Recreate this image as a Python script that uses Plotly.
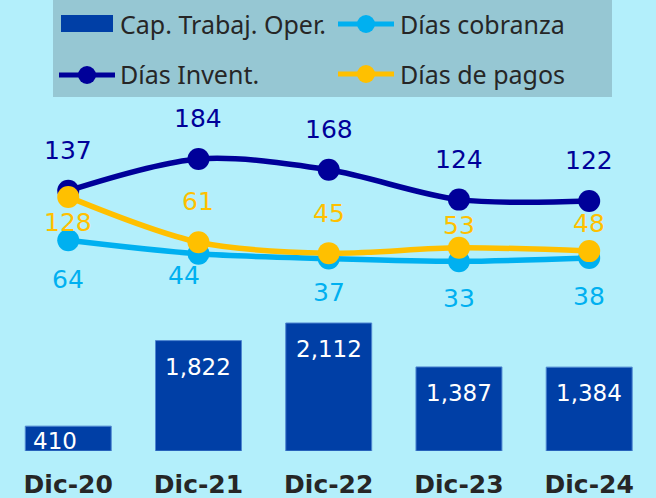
import plotly.graph_objects as go

# ---------------- data ----------------
categories = ["Dic-20", "Dic-21", "Dic-22", "Dic-23", "Dic-24"]
cap_trabajo = [410, 1822, 2112, 1387, 1384]
dias_cobranza = [64, 44, 37, 33, 38]
dias_invent = [137, 184, 168, 124, 122]
dias_pagos = [128, 61, 45, 53, 48]

# label offsets (px, positive = up) chosen to mimic original label placement
inv_shift = [40, 40, 40, 40, 40]
pag_shift = [-26, 41, 40, 22, 28]
cob_shift = [-39, -22, -34, -37, -39]
cob_xshift = [0, -14, 0, 0, 0]

# ---------------- style ----------------
W, H = 656, 498
BOTTOM_MARGIN = 47
PLOT_H = H - BOTTOM_MARGIN
BG = "#B3EFFB"
LEG_BG = "#96C7D3"
C_BAR = "#003FA6"
C_INV = "#000099"
C_COB = "#00B0F0"
C_PAG = "#FFC000"
TXT = "#262626"
NUM_FONT = "DejaVu Sans"

fig = go.Figure()

fig.add_trace(go.Bar(
    x=categories, y=cap_trabajo, name="Cap. Trabaj. Oper.",
    marker=dict(color=C_BAR, line=dict(color="#4F86D0", width=1)),
    width=0.66, yaxis="y", showlegend=False, hoverinfo="x+y",
))

for name, vals, col in [("Días cobranza", dias_cobranza, C_COB),
                        ("Días Invent.", dias_invent, C_INV),
                        ("Días de pagos", dias_pagos, C_PAG)]:
    fig.add_trace(go.Scatter(
        x=categories, y=vals, name=name, yaxis="y2", mode="lines+markers",
        line=dict(color=col, width=5.5, shape="spline", smoothing=0.9),
        marker=dict(color=col, size=22), showlegend=False,
    ))

annotations = []
# bar labels
for i, (c, v) in enumerate(zip(categories, cap_trabajo)):
    small = v < 1000
    annotations.append(dict(
        x=c, y=v, xref="x", yref="y", text=f"{v:,}", showarrow=False,
        yshift=-15 if small else -26, xshift=-13 if small else 0,
        font=dict(family=NUM_FONT, size=23, color="white"),
        xanchor="center", yanchor="middle"))

# line labels
for vals, col, shifts, xsh in [(dias_invent, C_INV, inv_shift, [0] * 5),
                                (dias_pagos, C_PAG, pag_shift, [0] * 5),
                                (dias_cobranza, C_COB, cob_shift, cob_xshift)]:
    for c, v, s, xs in zip(categories, vals, shifts, xsh):
        annotations.append(dict(
            x=c, y=v, xref="x", yref="y2", text=str(v), showarrow=False,
            yshift=s, xshift=xs,
            font=dict(family=NUM_FONT, size=25, color=col),
            xanchor="center", yanchor="middle"))


# ---------------- custom legend ----------------
def px(x):
    return x / W


def py(y):
    return (PLOT_H - y) / PLOT_H


shapes = [
    dict(type="rect", xref="paper", yref="paper", x0=px(53), x1=px(612),
         y0=py(97), y1=py(0), fillcolor=LEG_BG, line=dict(width=0), layer="below"),
    dict(type="rect", xref="paper", yref="paper", x0=px(61), x1=px(113),
         y0=py(32), y1=py(15), fillcolor=C_BAR, line=dict(width=0)),
]
legend_lines = [(59, 75, C_INV), (338, 24, C_COB), (338, 74, C_PAG)]
for x0, yc, col in legend_lines:
    shapes.append(dict(type="line", xref="paper", yref="paper", x0=px(x0), x1=px(x0 + 56),
                       y0=py(yc), y1=py(yc), line=dict(color=col, width=5)))
    shapes.append(dict(type="circle", xref="paper", yref="paper",
                       x0=px(x0 + 28 - 9), x1=px(x0 + 28 + 9),
                       y0=py(yc + 9), y1=py(yc - 9), fillcolor=col, line=dict(width=0)))

legend_texts = [("Cap. Trabaj. Oper.", 118, 24), ("Días cobranza", 398, 24),
                ("Días Invent.", 118, 74), ("Días de pagos", 398, 74)]
for t, x, y in legend_texts:
    annotations.append(dict(
        x=px(x), y=py(y), xref="paper", yref="paper", text=t, showarrow=False,
        xanchor="left", yanchor="middle",
        font=dict(family="Noto Sans", size=25, color=TXT)))

# axis ranges mapped so category centres fall at the original pixels
fig.update_layout(
    width=W, height=H,
    margin=dict(l=0, r=0, t=0, b=BOTTOM_MARGIN, pad=0),
    paper_bgcolor=BG, plot_bgcolor=BG,
    showlegend=False,
    xaxis=dict(type="category", range=[-0.524, 4.513], showgrid=False, zeroline=False,
               showline=False, ticks="", ticklabelstandoff=16,
               tickfont=dict(family="DejaVu Sans", size=25, color=TXT, weight="bold")),
    yaxis=dict(range=[0, 7442], visible=False, showgrid=False, zeroline=False),
    yaxis2=dict(range=[-247.1, 418.7], overlaying="y", visible=False,
                showgrid=False, zeroline=False),
    shapes=shapes,
    annotations=annotations,
    bargap=0.34,
)

fig.write_html(
    "out.html",
    config={"displayModeBar": False},
    post_script="document.body.style.margin='0px';document.body.style.overflow='hidden';"
                "document.body.style.background='" + BG + "';",
)
